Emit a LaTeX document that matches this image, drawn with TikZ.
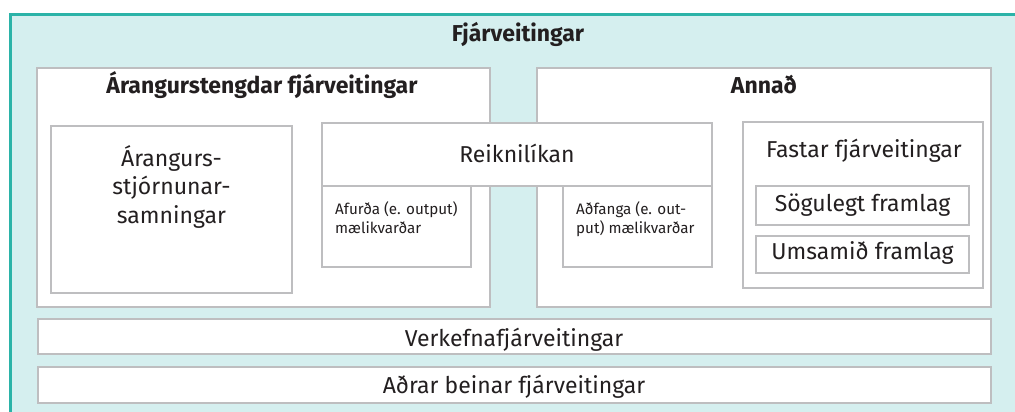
\documentclass[tikz,border=0pt]{standalone}
\usepackage{fontspec}
\setmainfont{Fira Sans}
\definecolor{tealbg}{HTML}{D5EFEF}
\definecolor{tealline}{HTML}{2BB3A8}
\definecolor{boxgray}{HTML}{BEBEC0}
\definecolor{txt}{HTML}{231F20}
\tikzset{
  box/.style={draw=boxgray, line width=2.4pt, fill=white, anchor=north west, inner sep=0pt, outer sep=0pt},
  thinbox/.style={box, line width=1.6pt},
  big/.style={font=\fontsize{23}{28}\selectfont, text=txt, inner sep=0pt},
  head/.style={font=\bfseries\fontsize{23}{28}\selectfont, text=txt, inner sep=0pt},
  small/.style={font=\fontsize{15.2}{18.5}\selectfont, text=txt, inner sep=0pt, align=left}
}
\begin{document}
\begin{tikzpicture}[x=1pt,y=-1pt]
\useasboundingbox (0,0) rectangle (1015,412);
\clip (0,0) rectangle (1015,412);
% outer frame
\node[draw=tealline, fill=tealbg, line width=2.6pt, anchor=north west, inner sep=0pt, minimum width=1030pt, minimum height=420pt] (outer) at (9,13) {};
\node[head, anchor=base] (ttl) at (518,42) {Fjárveitingar};
% big boxes
\node[box, minimum width=453pt, minimum height=239pt] (ar) at (37,68) {};
\node[box, minimum width=454pt, minimum height=239pt] (an) at (537,68) {};
\node[head, anchor=base] (arT) at (262,93) {Árangurstengdar fjárveitingar};
\node[head, anchor=base] (anT) at (764,93) {Annað};
% left inner
\node[box, minimum width=241pt, minimum height=167pt] (sam) at (51,126) {};
\node[big, anchor=base, align=center, font=\fontsize{23}{28.3}\selectfont] (samT) at (171.5,223) {Árangurs-\\stjórnunar-\\samningar};
% Reiknilikan
\node[box, minimum width=390pt, minimum height=63pt] (rk) at (322,123) {};
\node[big, anchor=base] (rkT) at (517,162) {Reiknilíkan};
\node[box, minimum width=149pt, minimum height=81pt] (af) at (322,186) {};
\node[box, minimum width=149pt, minimum height=81pt] (ad) at (563,186) {};
\node[small, anchor=base west] (afT) at (335,233) {Afurða (e. output)\\mælikvarðar};
\node[small, anchor=base west] (adT) at (576,233) {Aðfanga (e. out-\\put) mælikvarðar};
% Fastar
\node[box, minimum width=240pt, minimum height=166pt] (fa) at (743,122) {};
\node[big, anchor=base] (faT) at (864,157) {Fastar fjárveitingar};
\node[thinbox, minimum width=213pt, minimum height=39pt] (sg) at (756,186) {};
\node[big, anchor=base] (sgT) at (862.5,211) {Sögulegt framlag};
\node[thinbox, minimum width=213pt, minimum height=37pt] (um) at (756,236) {};
\node[big, anchor=base] (umT) at (862.5,259) {Umsamið framlag};
% bottom rows
\node[box, minimum width=953pt, minimum height=35pt] (vk) at (38,319) {};
\node[big, anchor=base] (vkT) at (514,346) {Verkefnafjárveitingar};
\node[box, minimum width=953pt, minimum height=36pt] (ab) at (38,367) {};
\node[big, anchor=base] (abT) at (514,393) {Aðrar beinar fjárveitingar};
\end{tikzpicture}
\end{document}
